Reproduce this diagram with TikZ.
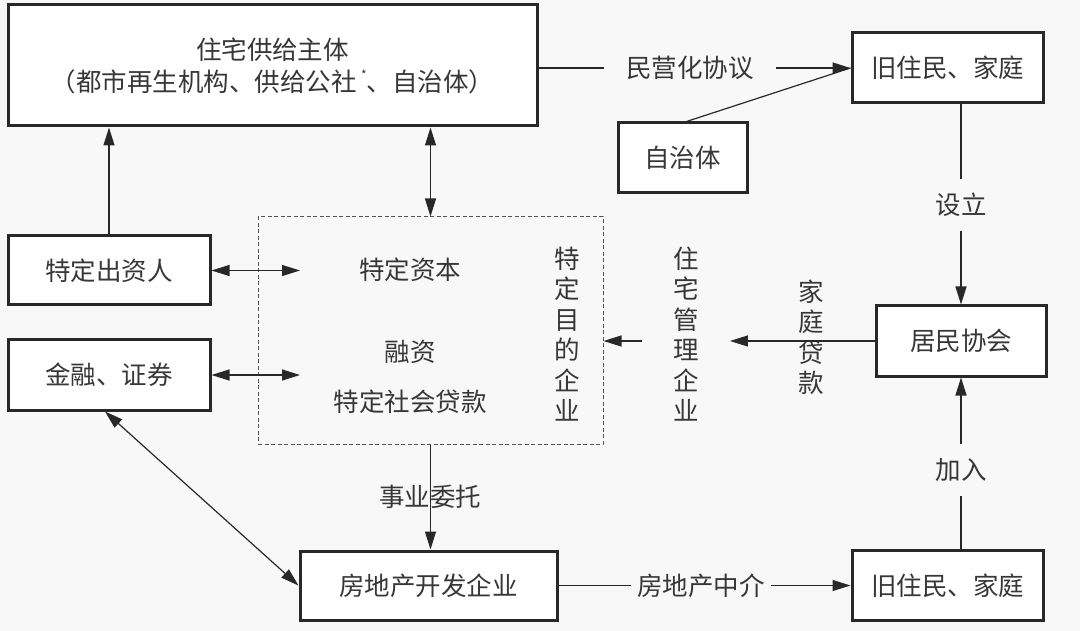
\documentclass[tikz,border=0pt]{standalone}
\usepackage{fontspec}
\setmainfont{Noto Sans CJK SC}
\usetikzlibrary{arrows.meta,calc}
\definecolor{bg}{RGB}{248,248,248}
\definecolor{ink}{RGB}{40,40,40}
\definecolor{txt}{RGB}{55,55,55}
\tikzset{
  box/.style={draw=ink,line width=3pt,fill=white,inner sep=0pt,text=txt,font=\fontsize{25.5}{30}\selectfont},
  lbl/.style={text=txt,font=\fontsize{25.5}{30.5}\selectfont,align=center,inner sep=0pt},
  conn/.style={draw=ink,line width=1.2pt},
  tip/.style={-{Triangle[length=18pt,width=11pt]}},
  btip/.style={{Triangle[length=18pt,width=11pt]}-{Triangle[length=18pt,width=11pt]}},
  dbox/.style={draw=ink!80,line width=1pt,dash pattern=on 4pt off 2.5pt,inner sep=0pt}
}
\begin{document}
\begin{tikzpicture}[x=1pt,y=-1pt]
\fill[bg] (0,0) rectangle (1080,631);
\useasboundingbox (0,0) rectangle (1080,631);

% boxes
\node[box,minimum width=529pt,minimum height=121pt,align=center] (top) at (272.5,65.5)
  {住宅供给主体\\[2pt]（都市再生机构、供给公社\,\raisebox{0.45em}{\fontsize{12}{12}\selectfont *}、自治体）};
\node[box,minimum width=191pt,minimum height=70pt] (old1) at (947.5,68) {旧住民、家庭};
\node[box,minimum width=129pt,minimum height=70pt] (zzt) at (682.5,158) {自治体};
\node[box,minimum width=202pt,minimum height=69pt] (tdczr) at (109,270.5) {特定出资人};
\node[box,minimum width=202pt,minimum height=70pt] (jr) at (109,375) {金融、证券};
\node[dbox,minimum width=345pt,minimum height=227pt] (spv) at (430.5,330.5) {};
\node[box,minimum width=170pt,minimum height=70pt] (jmxh) at (961,341) {居民协会};
\node[box,minimum width=257pt,minimum height=69pt] (fdc) at (428.5,585.5) {房地产开发企业};
\node[box,minimum width=191pt,minimum height=70pt] (old2) at (947.5,585.5) {旧住民、家庭};

% texts in dashed box
\node[lbl] (tdzb) at (410,270) {特定资本};
\node[lbl] (rz) at (410,352) {融资};
\node[lbl] (tdshdk) at (410,402) {特定社会贷款};
\node[lbl] (tdmd) at (567,334) {特\\定\\目\\的\\企\\业};

% labels on connectors
\node[lbl,inner xsep=22pt] (myh) at (690,68) {民营化协议};
\node[lbl,inner ysep=14pt] (sl) at (961,205) {设立};
\node[lbl,inner ysep=14pt] (jrl) at (961,470) {加入};
\node[lbl] (jtdk) at (811,337) {家\\庭\\贷\\款};
\node[lbl,inner xsep=31pt] (zg) at (686,334) {住\\宅\\管\\理\\企\\业};
\node[lbl,inner xsep=6pt] (zj) at (701,585.5) {房地产中介};
\node[lbl] (sywt) at (430,497) {事业委托};

% connectors
\draw[conn] (top.east |- myh.west) -- (myh.west);
\draw[conn,tip] (myh.east) -- (old1.west);
\draw[conn] (zzt.north) ++(4,0) -- (old1.west);
\draw[conn,tip] (tdczr.north) -- (tdczr.north |- top.south);
\draw[conn,btip] (spv.north |- top.south) -- (spv.north);
\coordinate (c1) at (300,270.5);
\coordinate (c2) at (300,375);
\draw[conn,btip] (tdczr.east) -- (c1);
\draw[conn,btip] (jr.east) -- (c2);
\draw[conn,btip] ([xshift=-4pt]jr.south) -- (fdc.west);
\draw[conn,tip] (spv.south) -- (spv.south |- fdc.north);
\draw[conn] (fdc.east) -- (zj.west);
\draw[conn,tip] (zj.east) -- (old2.west);
\draw[conn] (jmxh.north |- old1.south) -- (sl.north);
\draw[conn,tip] (sl.south) -- (jmxh.north);
\draw[conn] (jmxh.south |- old2.north) -- (jrl.south);
\draw[conn,tip] (jrl.north) -- (jmxh.south);
\draw[conn,tip] (jmxh.west) -- (zg.east |- jmxh.west);
\draw[conn,tip] (zg.west |- jmxh.west) -- (spv.east |- jmxh.west);
\end{tikzpicture}
\end{document}
